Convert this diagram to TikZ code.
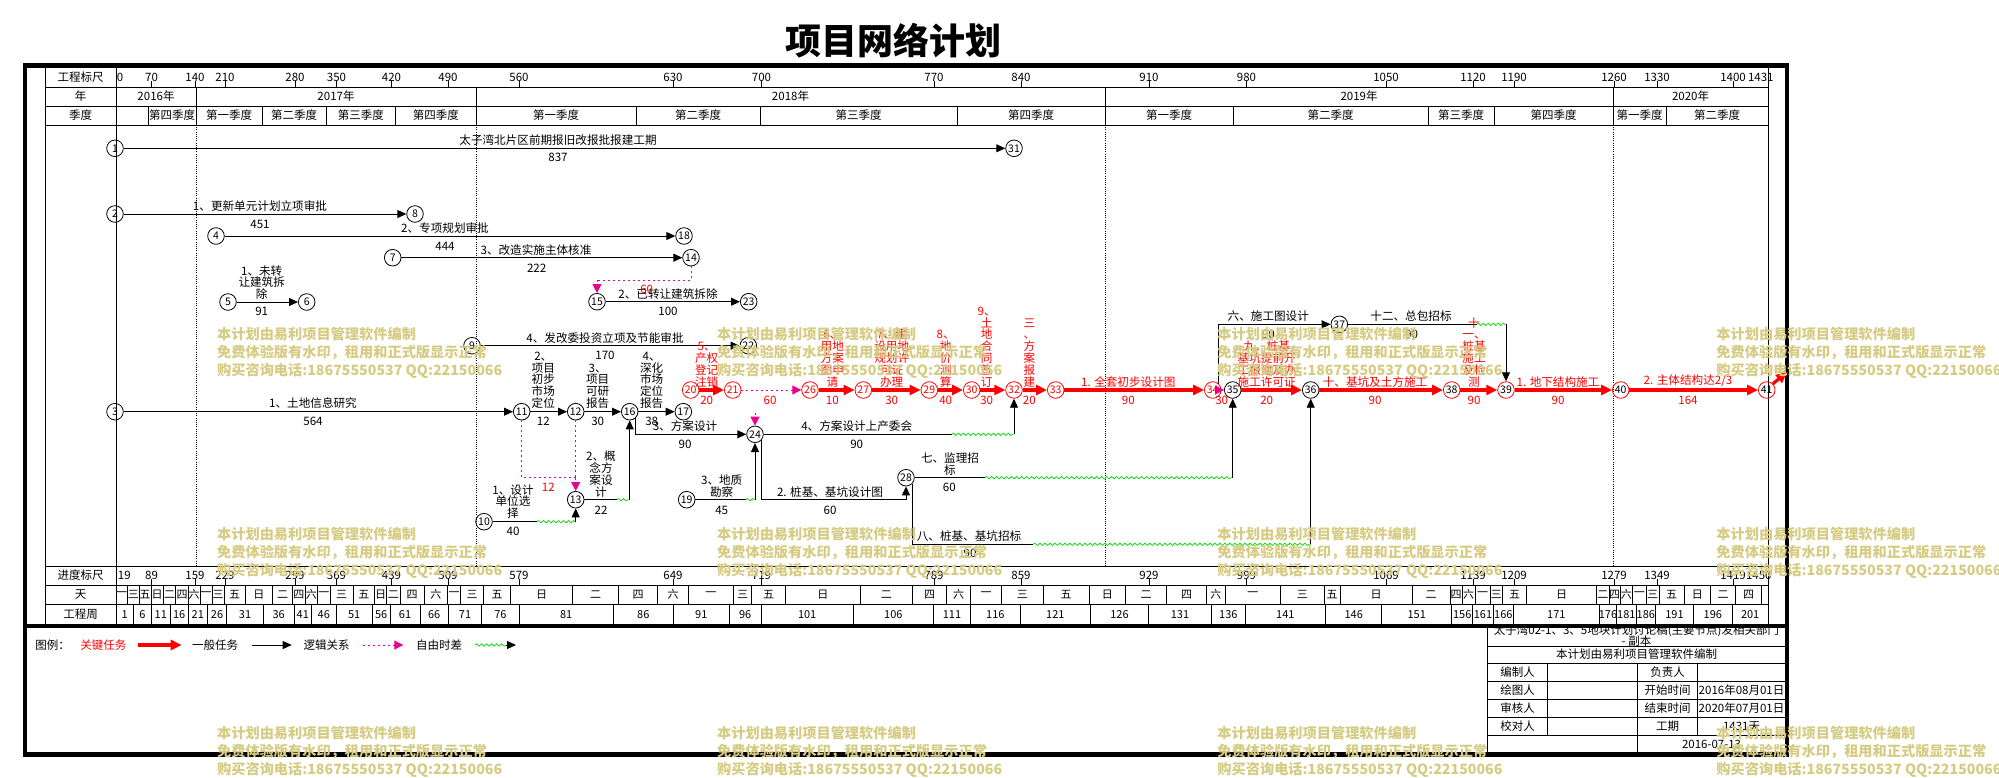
\documentclass[tikz,border=0pt]{standalone}
\usepackage{fontspec}
\setmainfont{Noto Sans CJK SC}
\usetikzlibrary{arrows.meta,decorations.pathmorphing}

\definecolor{wavegreen}{RGB}{20,220,20}
\definecolor{wmkhaki}{RGB}{214,203,130}

\newcommand\hdfont{\fontsize{11.5}{11.8}\selectfont}
\newcommand\lblfont{\fontsize{11.6}{11.8}\selectfont}
\newcommand\cellfont{\fontsize{11}{11}\selectfont}

\tikzset{
  evt/.style={circle,draw,line width=0.8pt,inner sep=0pt,minimum size=16.6pt,font=\fontsize{10.5}{10.5}\selectfont},
  evtred/.style={evt,draw=red,text=red},
  evtredk/.style={evt,draw=red},
  tline/.style={line width=0.9pt},
  task/.style={tline,-{Triangle[length=9pt,width=8pt]}},
  crit/.style={draw=red,line width=3.2pt,-{Triangle[length=11pt,width=10pt]}},
  logicline/.style={draw=magenta,line width=1pt,dash pattern=on 2pt off 3pt},
  logic/.style={logicline,-{Triangle[length=9pt,width=9pt]}},
  free/.style={draw=wavegreen,line width=0.8pt,decorate,decoration={snake,segment length=5pt,amplitude=1.2pt}},
  yearsep/.style={line width=0.8pt,dash pattern=on 1pt off 1.2pt},
  lbl/.style={font=\lblfont,inner sep=0pt,align=center},
  lblred/.style={lbl,text=red},
  hd/.style={font=\hdfont,inner sep=0pt},
  cell/.style={font=\cellfont,inner sep=0pt},
  wm/.style={anchor=west,inner sep=0pt,text=wmkhaki,font=\bfseries\fontsize{14.2}{15}\selectfont},
  titletext/.style={inner sep=0pt,font=\bfseries\fontsize{36}{36}\selectfont}
}

\begin{document}
\begin{tikzpicture}[x=1pt,y=-1pt,line width=0.9pt]
\useasboundingbox (0,0) rectangle (1999,777);

\node[titletext] (title) at (893,41) {项目网络计划};

\draw[line width=4.5pt] (25,65.7) rectangle (1787,754.5);
\draw[line width=3.5pt] (25,626) -- (1787,626);
\draw (45,65.7) -- (45,626);
\draw (116,65.7) -- (116,626);
\draw (1768,65.7) -- (1768,626);
\foreach \y in {87,106,125,566,585,604} \draw (45,\y) -- (1768,\y);
\foreach \x in {196,476,1105,1613} \draw[yearsep] (\x,125) -- (\x,566);

\node[hd] (hscale) at (80.5,77) {工程标尺};
\node[hd] (hyear) at (80.5,96.5) {年};
\node[hd] (hquarter) at (80.5,115.5) {季度};
\node[hd] (hprog) at (80.5,575.5) {进度标尺};
\node[hd] (hday) at (80.5,594.5) {天};
\node[hd] (hweek) at (80.5,614.5) {工程周};

\foreach \x/\t [count=\i] in {151.5/70,195/140,225/210,295/280,336.5/350,391.5/420,448/490,519/560,673/630,761.5/700,934/770,1021/840,1149/910,1246.5/980,1386/1050,1473/1120,1514/1190,1614/1260,1657/1330,1733/1400} {
  \pgfmathtruncatemacro\bt{\t+19}
  \draw (\x,81) -- (\x,87);
  \node[hd] (st\i) at (\x,77) {\t};
  \draw (\x,579) -- (\x,585);
  \node[hd] (sb\i) at (\x,575.5) {\bt};
}
\node[hd,anchor=west] (st0) at (116.5,77) {0};
\node[hd,anchor=east] (stend) at (1774,77) {1431};
\node[hd,anchor=west] (sb0) at (117.5,575.5) {19};
\node[hd,anchor=east] (sbend) at (1772,575.5) {1450};

\foreach \b/\t [remember=\b as \a (initially 116),count=\i] in {196/2016年,476/2017年,1105/2018年,1613/2019年,1768/2020年} {
  \draw (\b,87) -- (\b,106);
  \node[hd] (yr\i) at ({(\a+\b)/2},96.5) {\t};
}

\draw (148,106) -- (148,125);
\foreach \b/\t [remember=\b as \a (initially 148),count=\i] in {196/第四季度,262/第一季度,326/第二季度,395.5/第三季度,476/第四季度,636/第一季度,760/第二季度,957/第三季度,1105/第四季度,1233/第一季度,1428/第二季度,1494/第三季度,1613/第四季度,1666/第一季度,1768/第二季度} {
  \draw (\b,106) -- (\b,125);
  \node[hd] (q\i) at ({(\a+\b)/2},115.5) {\t};
}

\foreach \b/\t [remember=\b as \a (initially 116),count=\i] in {127.3/一,139.3/三,151/五,163.3/日,175.7/二,188.3/四,200/六,212.3/一,224/三,245.3/五,272.3/日,292.7/二,305/四,317.7/六,330/一,353.3/三,374.3/五,386.7/日,400/二,424/四,447.7/六,460.7/一,483.3/三,510.7/五,572.7/日,618.3/二,657.7/四,688.3/六,733.3/一,751.7/三,785.7/五,860/日,912.7/二,946.7/四,970.7/六,1001.3/一,1043.3/三,1089/五,1125.7/日,1166.7/二,1206.7/四,1225/六,1280.7/一,1324/三,1340/五,1412.3/日,1450/二,1462.3/四,1475/六,1490/一,1502.7/三,1526.7/五,1596.7/日,1609/二,1620/四,1632.7/六,1646/一,1659.3/三,1684/五,1710.7/日,1735.3/二,1761.7/四} {
  \draw (\b,585) -- (\b,604);
  \node[cell] (d\i) at ({(\a+\b)/2},594.5) {\t};
}

\foreach \b/\t [remember=\b as \a (initially 116),count=\i] in {133.3/1,151.7/6,170/11,188.3/16,207.3/21,226.7/26,263.3/31,294/36,311.7/41,336/46,372.3/51,390/56,420/61,448.3/66,481.7/71,519/76,613.3/81,673.3/86,729.3/91,761/96,853.3/101,933.3/106,970.7/111,1020/116,1090.7/121,1148.3/126,1211.7/131,1245/136,1325.7/141,1381.7/146,1451.7/151,1472.7/156,1493.3/161,1513.3/166,1599.3/171,1616.7/176,1636/181,1655.7/186,1693.3/191,1732.3/196,1768/201} {
  \draw (\b,604) -- (\b,624.5);
  \node[cell] (w\i) at ({(\a+\b)/2},614.5) {\t};
}

\node[evt] (n1) at (115,148.3) {1};
\node[evt] (n2) at (115,214) {2};
\node[evt] (n3) at (115,411.7) {3};
\node[evt] (n4) at (216,236) {4};
\node[evt] (n5) at (228,302) {5};
\node[evt] (n6) at (306.7,302) {6};
\node[evt] (n7) at (392.7,257.7) {7};
\node[evt] (n8) at (415,214) {8};
\node[evt] (n9) at (472,345.7) {9};
\node[evt] (n10) at (484,521.7) {10};
\node[evt] (n11) at (521.7,411.7) {11};
\node[evt] (n12) at (575.7,411.7) {12};
\node[evt] (n13) at (575.7,499.7) {13};
\node[evt] (n14) at (691,257.7) {14};
\node[evt] (n15) at (597,301.7) {15};
\node[evt] (n16) at (629.7,411.7) {16};
\node[evt] (n17) at (683.3,411.7) {17};
\node[evt] (n18) at (684,236) {18};
\node[evt] (n19) at (686.7,499.7) {19};
\node[evtred] (n20) at (690.7,390) {20};
\node[evtred] (n21) at (732.7,390) {21};
\node[evt] (n22) at (748.3,345.7) {22};
\node[evt] (n23) at (748.7,301.7) {23};
\node[evt] (n24) at (755,434.3) {24};
\node[evtred] (n26) at (810,390) {26};
\node[evtred] (n27) at (863.3,390) {27};
\node[evt] (n28) at (906,477.7) {28};
\node[evtred] (n29) at (929.3,390) {29};
\node[evtred] (n30) at (971.7,390) {30};
\node[evt] (n31) at (1014,148.3) {31};
\node[evtred] (n32) at (1014,390) {32};
\node[evtred] (n33) at (1055.7,390) {33};
\node[evtred] (n34) at (1212.7,390) {34};
\node[evt] (n35) at (1232.7,390) {35};
\node[evt] (n36) at (1310.7,390) {36};
\node[evt] (n37) at (1339.3,324.3) {37};
\node[evtredk] (n38) at (1451.7,390) {38};
\node[evtredk] (n39) at (1506,390) {39};
\node[evtredk] (n40) at (1620.7,390) {40};
\node[evtredk] (n41) at (1766.7,390) {41};

\coordinate (c13a) at (537,521.7);
\coordinate (c13b) at (575.7,521.7);
\coordinate (c16a) at (617,499.7);
\coordinate (c16b) at (629.7,499.7);
\coordinate (d12) at (575.7,477.7);
\coordinate (d15) at (597,280);
\coordinate (d24) at (755,413);
\coordinate (c24a) at (746,499.7);
\coordinate (c24b) at (755,499.7);
\coordinate (c28) at (906,499.7);
\coordinate (c32a) at (951.7,434.3);
\coordinate (c32b) at (1014,434.3);
\coordinate (c35a) at (985,477.7);
\coordinate (c35b) at (1232.7,477.7);
\coordinate (c36a) at (1033.3,544.3);
\coordinate (c36b) at (1310.7,544.3);
\coordinate (c39a) at (1476.7,324.3);
\coordinate (c39b) at (1506,324.3);
\coordinate (e41) at (1787,372);

\draw[task] (n1) -- (n31);
\draw[task] (n2) -- (n8);
\draw[task] (n4) -- (n18);
\draw[task] (n7) -- (n14);
\draw[task] (n5) -- (n6);
\draw[task] (n15) -- (n23);
\draw[task] (n9) -- (n22);
\draw[task] (n3) -- (n11);
\draw[task] (n11) -- (n12);
\draw[task] (n12) -- (n16);
\draw[task] (n16) -- (n17);
\draw[task] (n16.south east) |- (n24);
\draw[tline] (n10) -- (c13a);
\draw[free] (c13a) -- (c13b);
\draw[task] (c13b) -- (n13);
\draw[tline] (n13) -- (c16a);
\draw[free] (c16a) -- (c16b);
\draw[task] (c16b) -- (n16);
\draw[tline] (n19) -- (c24a);
\draw[free] (c24a) -- (c24b);
\draw[task] (c24b) -- (n24);
\draw[task] (n24.south east) |- (c28) -- (n28);
\draw[tline] (n24) -- (c32a);
\draw[free] (c32a) -- (c32b);
\draw[task] (c32b) -- (n32);
\draw[tline] (n28) -- (c35a);
\draw[free] (c35a) -- (c35b);
\draw[task] (c35b) -- (n35);
\draw[tline] (n28.south east) |- (c36a);
\draw[free] (c36a) -- (c36b);
\draw[task] (c36b) -- (n36);
\draw[task] (n34.north east) |- (n37);
\draw[tline] (n37) -- (c39a);
\draw[free] (c39a) -- (c39b);
\draw[task] (c39b) -- (n39);

\draw[logicline] (n14) |- (d15);
\draw[logic] (d15) -- (n15);
\draw[logicline] (n11) |- (d12);
\draw[logicline] (n12) -- (d12);
\draw[logic] (d12) -- (n13);
\draw[logic] (n21) -- (n26);
\draw[logic] (n34) -- (n35);
\draw[logic] (d24) -- (n24);

\draw[crit] (n20) -- (n21);
\draw[crit] (n26) -- (n27);
\draw[crit] (n27) -- (n29);
\draw[crit] (n29) -- (n30);
\draw[crit] (n30) -- (n32);
\draw[crit] (n32) -- (n33);
\draw[crit] (n33) -- (n34);
\draw[crit] (n35) -- (n36);
\draw[crit] (n36) -- (n38);
\draw[crit] (n38) -- (n39);
\draw[crit] (n39) -- (n40);
\draw[crit] (n40) -- (n41);
\draw[crit] (n41.north east) -- (e41);

\node[lbl] (a1t) at (558,140) {太子湾北片区前期报旧改报批报建工期};
\node[lbl] (a1d) at (558,157.7) {837};
\node[lbl] (a2t) at (260,205.7) {1、更新单元计划立项审批};
\node[lbl] (a2d) at (260,224) {451};
\node[lbl] (a3t) at (445,227.7) {2、专项规划审批};
\node[lbl] (a3d) at (445,246) {444};
\node[lbl] (a4t) at (536,250) {3、改造实施主体核准};
\node[lbl] (a4d) at (536.7,268) {222};
\node[lbl,anchor=south] (a5t) at (261.7,300) {1、未转\\让建筑拆\\除};
\node[lbl] (a5d) at (261.7,311.7) {91};
\node[lbl] (a6t) at (668,294) {2、已转让建筑拆除};
\node[lbl] (a6d) at (668,311.7) {100};
\node[lblred] (f6) at (646.7,289) {60};
\node[lbl] (a7t) at (605,337.7) {4、发改委投资立项及节能审批};
\node[lbl] (a7d) at (605,355.7) {170};
\node[lbl] (a8t) at (313,403) {1、土地信息研究};
\node[lbl] (a8d) at (313,421.7) {564};
\node[lbl,anchor=south] (a9t) at (543.3,409) {2、\\项目\\初步\\市场\\定位};
\node[lbl] (a9d) at (543.3,421.7) {12};
\node[lbl,anchor=south] (a10t) at (597.7,409) {3、\\项目\\可研\\报告};
\node[lbl] (a10d) at (597.7,421.7) {30};
\node[lbl,anchor=south] (a11t) at (651.7,409) {4、\\深化\\市场\\定位\\报告};
\node[lbl] (a11d) at (651.7,421.7) {38};
\node[lbl] (a12t) at (685,426) {3、方案设计};
\node[lbl] (a12d) at (685,444) {90};
\node[lbl,anchor=south] (a13t) at (513,519) {1、设计\\单位选\\择};
\node[lbl] (a13d) at (513,531.7) {40};
\node[lblred] (f13) at (548.3,487.7) {12};
\node[lbl,anchor=south] (a14t) at (601,497.5) {2、概\\念方\\案设\\计};
\node[lbl] (a14d) at (601,510) {22};
\node[lbl,anchor=south] (a15t) at (721.7,497.5) {3、地质\\勘察};
\node[lbl] (a15d) at (721.7,510) {45};
\node[lbl] (a16t) at (830,491.7) {2. 桩基、基坑设计图};
\node[lbl] (a16d) at (830,510) {60};
\node[lbl] (a17t) at (856.7,426) {4、方案设计上产委会};
\node[lbl] (a17d) at (856.7,444) {90};
\node[lbl,anchor=south] (a18t) at (950,475.8) {七、监理招\\标};
\node[lbl] (a18d) at (949.3,487.7) {60};
\node[lbl] (a19t) at (969,535.7) {八、桩基、基坑招标};
\node[lbl] (a19d) at (970,553.3) {90};
\node[lbl] (a20t) at (1268.3,315.7) {六、施工图设计};
\node[lbl] (a20d) at (1268.3,334) {90};
\node[lbl] (a21t) at (1411,315.7) {十二、总包招标};
\node[lbl] (a21d) at (1411.7,334) {90};

\node[lblred,anchor=south] (r1t) at (706.7,387.5) {5、\\产权\\登记\\注销};
\node[lblred] (r1d) at (706.7,400) {20};
\node[lblred] (f21) at (770,400) {60};
\node[lblred,anchor=south] (r2t) at (832.3,387.5) {6、\\用地\\方案\\图申\\请};
\node[lblred] (r2d) at (832.3,400) {10};
\node[lblred,anchor=south] (r3t) at (891.7,387.5) {7、建\\设用地\\规划许\\可证\\办理};
\node[lblred] (r3d) at (891.7,400) {30};
\node[lblred,anchor=south] (r4t) at (945.7,387.5) {8、\\地\\价\\测\\算};
\node[lblred] (r4d) at (945.7,400) {40};
\node[lblred,anchor=south] (r5t) at (986.7,387.5) {9、\\土\\地\\合\\同\\签\\订};
\node[lblred] (r5d) at (986.7,400) {30};
\node[lblred,anchor=south] (r6t) at (1029.3,387.5) {三\\、\\方\\案\\报\\建};
\node[lblred] (r6d) at (1029.3,400) {20};
\node[lblred,anchor=south] (r7t) at (1128.3,387.5) {1. 全套初步设计图};
\node[lblred] (r7d) at (1128.3,400) {90};
\node[lblred] (f34) at (1221.7,400) {30};
\node[lblred,anchor=south] (r8t) at (1266.7,387.5) {九、桩基\\基坑提前开\\工报建及办\\施工许可证};
\node[lblred] (r8d) at (1266.7,400) {20};
\node[lblred,anchor=south] (r9t) at (1375,387.5) {十、基坑及土方施工};
\node[lblred] (r9d) at (1375,400) {90};
\node[lblred,anchor=south] (r10t) at (1474,387.5) {十\\一、\\桩基\\施工\\及检\\测};
\node[lblred] (r10d) at (1474,400) {90};
\node[lblred,anchor=south] (r11t) at (1558,387.5) {1. 地下结构施工};
\node[lblred] (r11d) at (1558,400) {90};
\node[lblred,anchor=south] (r12t) at (1688,387.5) {2. 主体结构达2/3};
\node[lblred] (r12d) at (1688,400) {164};

\node[hd] (lg0) at (52.5,645) {图例：};
\node[hd,text=red] (lg1) at (103.3,645) {关键任务};
\coordinate (lga1) at (138.3,645);
\coordinate (lga2) at (181.7,645);
\draw[crit] (lga1) -- (lga2);
\node[hd] (lg2) at (215,645) {一般任务};
\coordinate (lgb1) at (251.7,645);
\coordinate (lgb2) at (291.7,645);
\draw[task] (lgb1) -- (lgb2);
\node[hd] (lg3) at (326.7,645) {逻辑关系};
\coordinate (lgc1) at (363.3,645);
\coordinate (lgc2) at (403.3,645);
\draw[logic] (lgc1) -- (lgc2);
\node[hd] (lg4) at (439,645) {自由时差};
\coordinate (lgd1) at (475,645);
\coordinate (lgd2) at (506,645);
\coordinate (lgd3) at (516,645);
\draw[free] (lgd1) -- (lgd2);
\draw[task] (lgd2) -- (lgd3);

\draw (1487.3,626) -- (1487.3,754.5);
\foreach \y in {646,663.3,681.7,699.3,717.3,735} \draw (1487.3,\y) -- (1785,\y);
\draw (1547.7,663.3) -- (1547.7,735);
\draw (1637.7,663.3) -- (1637.7,754.5);
\draw (1697.7,663.3) -- (1697.7,735);
\begin{scope}
\clip (1487.3,627.8) rectangle (1785,646);
\node[hd] (tbname) at (1636.5,630.5) {太子湾02-1、3、5地块计划讨论稿(主要节点)发相关部门};
\end{scope}
\node[hd] (tbcopy) at (1636.5,640.8) {- 副本};
\node[hd] (tbsoft) at (1636.5,654.6) {本计划由易利项目管理软件编制};
\node[hd] (tb1a) at (1517.5,672.5) {编制人};
\node[hd] (tb1b) at (1667.7,672.5) {负责人};
\node[hd] (tb2a) at (1517.5,690.5) {绘图人};
\node[hd] (tb2b) at (1667.7,690.5) {开始时间};
\node[hd] (tb2c) at (1741.5,690.5) {2016年08月01日};
\node[hd] (tb3a) at (1517.5,708.3) {审核人};
\node[hd] (tb3b) at (1667.7,708.3) {结束时间};
\node[hd] (tb3c) at (1741.5,708.3) {2020年07月01日};
\node[hd] (tb4a) at (1517.5,726.2) {校对人};
\node[hd] (tb4b) at (1667.7,726.2) {工期};
\node[hd] (tb4c) at (1741.5,726.2) {1431天};
\node[hd] (tbdate) at (1711.5,744.5) {2016-07-13};

\foreach \wx [count=\i] in {216.7,716.7,1217,1716} {
  \foreach \wy [count=\j] in {334.3,534.3,733.5} {
    \begin{scope}[shift={(\wx,\wy)}]
    \node[wm] (wm\i\j-a) at (0,0) {本计划由易利项目管理软件编制};
    \node[wm] (wm\i\j-b) at (0,18.2) {免费体验版有水印，租用和正式版显示正常};
    \node[wm] (wm\i\j-c) at (0,36.4) {购买咨询电话:18675550537 QQ:22150066};
    \end{scope}
  }
}
\end{tikzpicture}
\end{document}
